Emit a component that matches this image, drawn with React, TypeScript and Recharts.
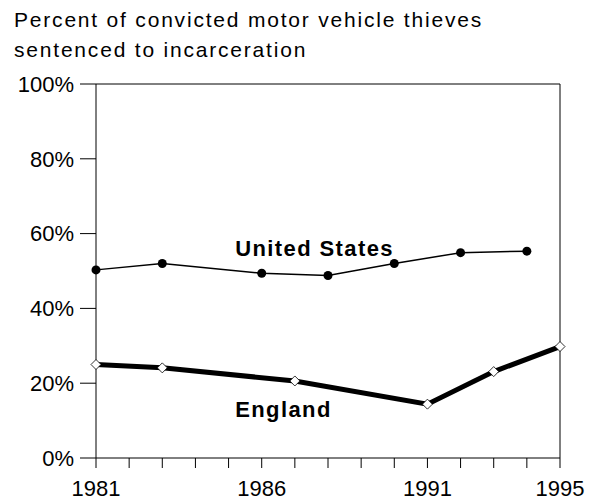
import { Line, LineChart, ReferenceDot, ReferenceLine, XAxis, YAxis } from "recharts";

const years = [1981, 1982, 1983, 1984, 1985, 1986, 1987, 1988, 1989, 1990, 1991, 1992, 1993, 1994, 1995];
const usValues = [50.3, null, 52, null, null, 49.4, null, 48.8, null, 52, null, 54.9, null, 55.3, null];
const englandValues = [25, null, 24.1, null, null, null, 20.6, null, null, null, 14.4, null, 23.1, null, 29.8];
const yTicks = [0, 20, 40, 60, 80, 100];
const labeledYears = [1981, 1986, 1991, 1995];

const data = years.map((year, i) => ({ year, us: usValues[i], england: englandValues[i] }));

const font = "'Liberation Sans', Arial, sans-serif";

function Diamond({ cx, cy }: { cx?: number; cy?: number }) {
  if (cx == null || cy == null) return null;
  const s = 5;
  return <path d={`M${cx},${cy - s}L${cx + s},${cy}L${cx},${cy + s}L${cx - s},${cy}Z`} fill="#fff" stroke="#000" strokeWidth={0.8} />;
}

function SeriesLabel({ viewBox, value }: { viewBox?: { x: number; y: number }; value?: string }) {
  if (!viewBox) return null;
  return (
    <text x={viewBox.x} y={viewBox.y} fontFamily={font} fontSize={22} fontWeight="bold" letterSpacing={1.4} fill="#000">
      {value}
    </text>
  );
}

export default function App() {
  return (
    <div style={{ position: "fixed", left: 0, top: 0, width: 616, height: 501, background: "#fff", fontFamily: font }}>
      <div style={{ position: "absolute", left: 14, top: 5, fontSize: 21, letterSpacing: 1.8, lineHeight: "30px", color: "#000", whiteSpace: "nowrap" }}>
        Percent of convicted motor vehicle thieves
        <br />
        sentenced to incarceration
      </div>
      <LineChart width={616} height={501} data={data} margin={{ top: 84, right: 56, bottom: 0, left: 10 }} style={{ position: "absolute", left: 0, top: 0 }}>
        <XAxis
          dataKey="year"
          type="number"
          domain={[1981, 1995]}
          ticks={years}
          interval={0}
          tickFormatter={(v: number) => (labeledYears.includes(v) ? String(v) : "")}
          tickSize={10}
          tickMargin={12}
          height={43}
          stroke="#000"
          tick={{ fill: "#000", fontSize: 22, fontFamily: font }}
        />
        <YAxis
          domain={[0, 100]}
          ticks={yTicks}
          tickFormatter={(v: number) => `${v}%`}
          tickSize={16}
          tickMargin={6}
          width={86}
          stroke="#000"
          tick={{ fill: "#000", fontSize: 22, fontFamily: font }}
        />
        <ReferenceLine y={100} stroke="#000" />
        <ReferenceLine x={1995} stroke="#000" />
        <Line
          dataKey="england"
          stroke="#000"
          strokeWidth={5}
          connectNulls
          dot={<Diamond />}
          isAnimationActive={false}
        />
        <Line
          dataKey="us"
          stroke="#000"
          strokeWidth={1.5}
          connectNulls
          dot={{ r: 4.5, fill: "#000", stroke: "#000", strokeWidth: 0 }}
          isAnimationActive={false}
        />
        <ReferenceDot x={1985.2} y={53.9} r={0} label={<SeriesLabel value="United States" />} />
        <ReferenceDot x={1985.2} y={11} r={0} label={<SeriesLabel value="England" />} />
      </LineChart>
    </div>
  );
}
